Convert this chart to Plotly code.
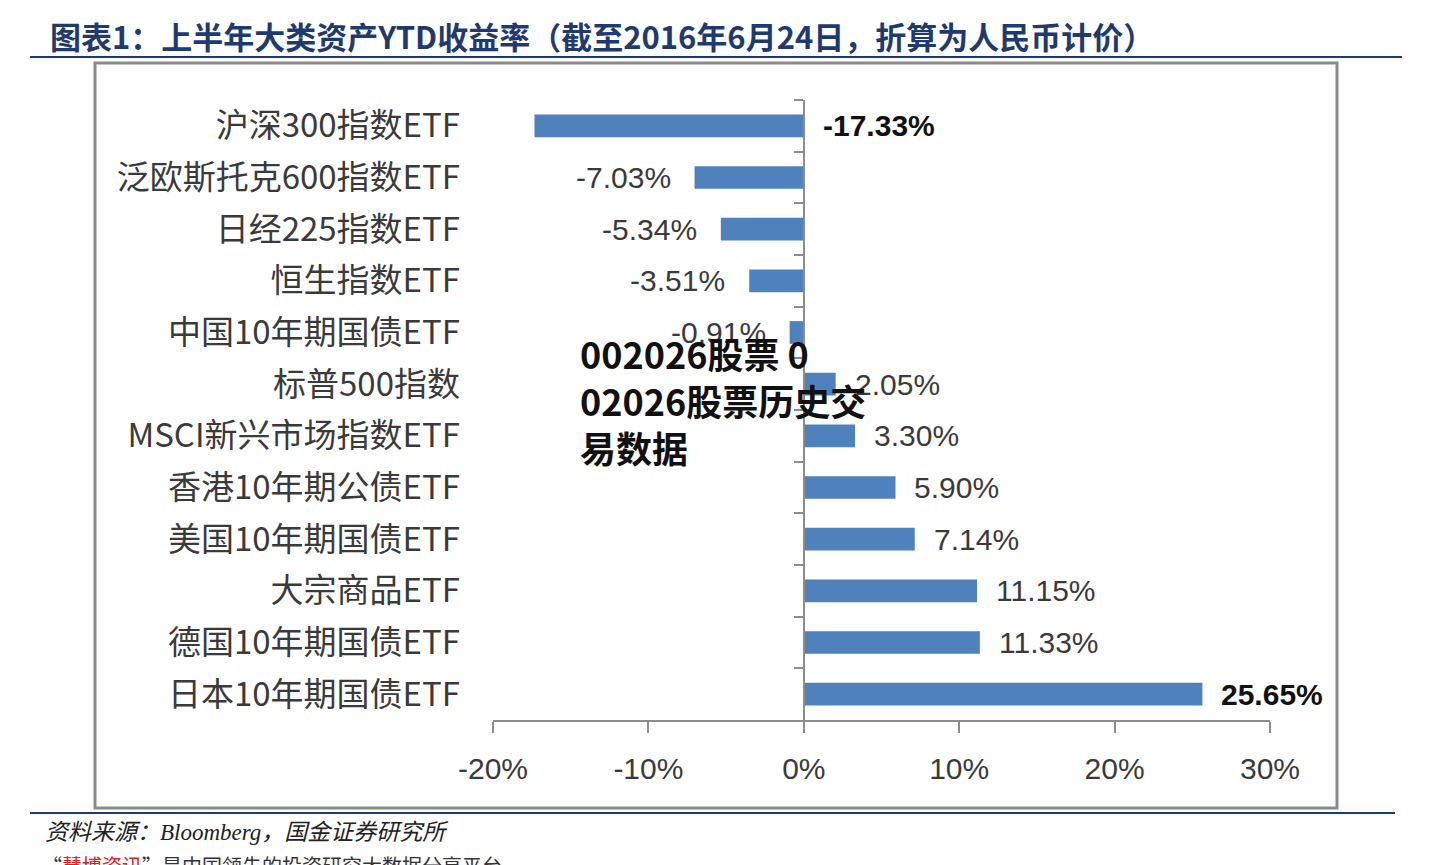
import plotly.graph_objects as go

categories = ["沪深300指数ETF", "泛欧斯托克600指数ETF", "日经225指数ETF", "恒生指数ETF",
              "中国10年期国债ETF", "标普500指数", "MSCI新兴市场指数ETF", "香港10年期公债ETF",
              "美国10年期国债ETF", "大宗商品ETF", "德国10年期国债ETF", "日本10年期国债ETF"]
values = [-17.33, -7.03, -5.34, -3.51, -0.91, 2.05, 3.30, 5.90, 7.14, 11.15, 11.33, 25.65]
value_labels = ["-17.33%", "-7.03%", "-5.34%", "-3.51%", "-0.91%", "2.05%", "3.30%",
                "5.90%", "7.14%", "11.15%", "11.33%", "25.65%"]
bold_labels = ["-17.33%", "25.65%"]
x_tick_values = [-20, -10, 0, 10, 20, 30]
x_tick_labels = ["-20%", "-10%", "0%", "10%", "20%", "30%"]

title_text = "图表1：上半年大类资产YTD收益率（截至2016年6月24日，折算为人民币计价）"
source_text = "资料来源：Bloomberg，国金证券研究所"
overlay_text = "002026股票 0<br>02026股票历史交<br>易数据"

BAR = "#4F81BD"
GRAY_TXT = "#3A3A3A"
AXIS = "#8C8C8C"
NAVY = "#1F3A6E"
LABEL_FONT = "Liberation Sans, Arial"

fig = go.Figure()
fig.add_trace(go.Bar(
    x=values, y=categories, orientation="h", width=0.44,
    marker=dict(color=BAR, line=dict(width=0)),
    hoverinfo="skip",
))
# invisible trace to drive the zero-position category axis
fig.add_trace(go.Scatter(
    x=[0] * len(categories), y=categories, yaxis="y2", mode="markers",
    marker=dict(opacity=0), hoverinfo="skip", showlegend=False,
))

n = len(categories)
fig.update_layout(
    width=1440, height=865,
    margin=dict(l=493, r=170, t=100, b=145),
    paper_bgcolor="white", plot_bgcolor="white",
    showlegend=False,
    xaxis=dict(range=[x_tick_values[0], x_tick_values[-1]], tickmode="array",
               tickvals=x_tick_values, ticktext=x_tick_labels,
               showgrid=False, zeroline=False, showline=True, linecolor=AXIS, linewidth=1.5,
               ticks="outside", ticklen=11, tickcolor=AXIS, tickwidth=1.5,
               tickfont=dict(family="Liberation Sans Narrow, Liberation Sans", size=30, color=GRAY_TXT),
               ticklabelstandoff=10),
    yaxis=dict(range=[n - 0.5, -0.5], type="category", showgrid=False, zeroline=False,
               showline=False, ticks="", ticklabelstandoff=32,
               tickfont=dict(family="Noto Sans CJK SC", size=33, color=GRAY_TXT)),
    yaxis2=dict(range=[n - 0.5, -0.5], type="category", overlaying="y", anchor="free",
                position=(0 - x_tick_values[0]) / (x_tick_values[-1] - x_tick_values[0]),
                side="left", showgrid=False, zeroline=False, showline=True,
                linecolor=AXIS, linewidth=1.5, ticks="outside", ticklen=9, tickcolor=AXIS,
                tickwidth=1.5, tickson="boundaries", showticklabels=False),
)

# value labels
for i, (cat, v, lab) in enumerate(zip(categories, values, value_labels)):
    bold = lab in bold_labels
    txt = "<b>" + lab + "</b>" if bold else lab
    color = "#111111" if bold else GRAY_TXT
    if i == 0:
        # the largest negative label sits right of the zero axis
        ax, anchor, shift = 0, "left", 17
    elif v < 0:
        ax, anchor, shift = v, "right", -22
    else:
        ax, anchor, shift = v, "left", 17
    fig.add_annotation(x=ax, y=cat, xref="x", yref="y", text=txt, showarrow=False,
                       xanchor=anchor, xshift=shift,
                       font=dict(family=LABEL_FONT, size=30, color=color))

def px_x(p):
    return (p - 493) / 777.0

def px_y(p):
    return (720 - p) / 620.0

# chart frame
fig.add_shape(type="rect", xref="paper", yref="paper",
              x0=px_x(95), x1=px_x(1337), y0=px_y(808), y1=px_y(63),
              line=dict(color="#8A8A8A", width=3), fillcolor="rgba(0,0,0,0)", layer="below")
# header / footer rules
fig.add_shape(type="line", xref="paper", yref="paper", x0=px_x(30), x1=px_x(1402),
              y0=px_y(57), y1=px_y(57), line=dict(color=NAVY, width=2))
fig.add_shape(type="line", xref="paper", yref="paper", x0=px_x(30), x1=px_x(1395),
              y0=px_y(813), y1=px_y(813), line=dict(color=NAVY, width=2))

fig.add_annotation(x=px_x(48), y=px_y(36), xref="paper", yref="paper", text="<b>" + title_text + "</b>",
                   showarrow=False, xanchor="left", yanchor="middle",
                   font=dict(family="Noto Sans CJK SC", size=31, color=NAVY))
fig.add_annotation(x=px_x(43), y=px_y(832), xref="paper", yref="paper", text="<i>" + source_text + "</i>",
                   showarrow=False, xanchor="left", yanchor="middle",
                   font=dict(family="Liberation Serif, Noto Sans CJK SC", size=23, color="#222222"))
fig.add_annotation(x=px_x(40), y=px_y(866), xref="paper", yref="paper",
                   text="“<span style='color:#E02020'>慧博资讯</span>”是中国领先的投资研究大数据分享平台",
                   showarrow=False, xanchor="left", yanchor="middle",
                   font=dict(family="Noto Sans CJK SC", size=20, color="#333333"))
fig.add_annotation(x=px_x(578), y=px_y(325), xref="paper", yref="paper", text="<b>" + overlay_text + "</b>",
                   showarrow=False, xanchor="left", yanchor="top", align="left",
                   font=dict(family="Noto Sans CJK SC", size=36, color="#111111"))

fig.write_html("out.html", config={"displayModeBar": False},
               post_script="document.body.style.margin='0';document.body.style.overflow='hidden';")
